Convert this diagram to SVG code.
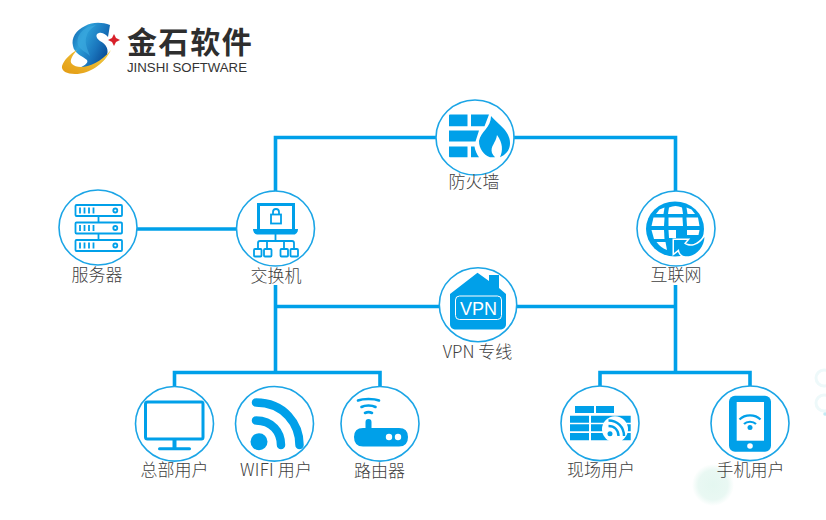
<svg xmlns="http://www.w3.org/2000/svg" width="826" height="520" viewBox="0 0 826 520">
<style>
.c{fill:#fff;stroke:#1ba5e6;stroke-width:1.6}
.f{fill:#00a0e9;stroke:none}
.s{fill:none;stroke:#00a0e9;stroke-width:1.8}
.w{fill:#fff;stroke:none}
.l{font-family:"Noto Sans CJK SC","Noto Sans",sans-serif;font-size:17px;font-weight:300;fill:#404040;text-anchor:middle}
.conn{fill:none;stroke:#00a0e9;stroke-width:3.6}
</style>
<defs>
<linearGradient id="sg" x1="0" y1="0" x2="1" y2="0.6"><stop offset="0" stop-color="#0b5aa8"/><stop offset=".35" stop-color="#2c9fd8"/><stop offset=".7" stop-color="#1a76bd"/><stop offset="1" stop-color="#0a4c96"/></linearGradient>
<linearGradient id="og" x1="0" y1="1" x2="1" y2="0"><stop offset="0" stop-color="#e39a12"/><stop offset="1" stop-color="#f4cf45"/></linearGradient>
<radialGradient id="blob"><stop offset="0" stop-color="#e4f7f0"/><stop offset=".7" stop-color="#e9f8f3"/><stop offset="1" stop-color="#fff"/></radialGradient>
</defs>
<rect width="826" height="520" fill="#fff"/>
<g id="decor" fill="none" stroke="#eef9fa" stroke-width="3">
<circle cx="824" cy="378" r="8"/><circle cx="824" cy="403" r="8"/>
<circle cx="713" cy="485" r="21" fill="url(#blob)" stroke="none"/>
<circle cx="825" cy="414" r="1.800" fill="#c4ecf5" stroke="none"/>
</g>
<g id="logo">
<path fill="url(#sg)" d="M110 25C102 22 92 22 85 26C76 30 71 38 73 46C74 53 82 56 87 60C89 63 83 67 78 68C88 70 100 66 106 57C110 50 106 44 100 41C96 38 95 34 99 33C103 32 106 35 108 37Z"/>
<path fill="#3aa8de" opacity=".7" d="M88 27C80 31 76 38 78 45C80 50 86 52 90 56C87 48 84 42 87 35C88 31 92 28 96 25Z"/>
<path fill="url(#og)" d="M62 66C64 60 70 54 77 50C72 56 69 61 72 64C78 70 96 68 111 50C104 64 90 74 75 74C67 74 61 71 62 66Z"/>
<path fill="#d8202a" d="M114 34L116 38L120 40L116 42L114 46L112 42L108 40L112 38Z"/>
<text x="127" y="53" font-family="'Noto Sans CJK SC',sans-serif" font-size="30" font-weight="700" letter-spacing="1.600" fill="#2e2e2e">金石软件</text>
<text x="127" y="72" font-family="'Liberation Sans',sans-serif" font-size="12.500" fill="#333" textLength="120" lengthAdjust="spacingAndGlyphs">JINSHI SOFTWARE</text>
</g>
<g id="connectors" class="conn">
<path d="M275.500 192V137.500H675.500V192"/>
<path d="M137 229H237"/>
<path d="M275.500 285V372"/>
<path d="M275.500 306.500H675.500"/>
<path d="M675.500 285V372"/>
<path d="M174.500 387V372.500H380V387"/>
<path d="M600 387V372.500H750V387"/>
</g>
<g id="server">
<ellipse class="c" cx="98" cy="227.500" rx="39" ry="37.500"/>
<g class="s">
<rect x="75.500" y="205" width="46.500" height="11" rx="1"/>
<rect x="75.500" y="222.500" width="46.500" height="11" rx="1"/>
<rect x="75.500" y="240" width="46.500" height="11" rx="1"/>
<path d="M98.500 216V222.500M98.500 233.500V240M80 207.500v6M84.500 207.500v6M89 207.500v6M93.500 207.500v6M80 225v6M84.500 225v6M89 225v6M93.500 225v6M80 242.500v6M84.500 242.500v6M89 242.500v6M93.500 242.500v6"/>
<circle cx="115.300" cy="210.500" r="2"/><circle cx="115.300" cy="228" r="2"/><circle cx="115.300" cy="245.500" r="2"/>
</g>
<text class="l" x="97" y="281">服务器</text>
</g>
<g id="switch">
<ellipse class="c" cx="275.500" cy="228.500" rx="39" ry="37.500"/>
<path class="f" d="M257 203H295V229H292V206H260V229H257Z"/>
<path class="f" d="M253 229H298C298 232 296 234.500 294 234.500H257C255 234.500 253 232 253 229Z"/>
<g class="s">
<rect x="271" y="214.500" width="10" height="9"/>
<path d="M273 214.500V212a3 3 0 0 1 6 0v2.500"/>
<path d="M275.500 234V241M258 248V243a2 2 0 0 1 2-2H292a2 2 0 0 1 2 2V248M267 241V248M284 241V248"/>
<rect x="254" y="249" width="7.500" height="7.500" rx="1"/><rect x="264" y="249" width="7.500" height="7.500" rx="1"/>
<rect x="280.500" y="249" width="7.500" height="7.500" rx="1"/><rect x="290.500" y="249" width="7.500" height="7.500" rx="1"/>
</g>
<text class="l" x="276" y="282">交换机</text>
</g>
<g id="firewall">
<ellipse class="c" cx="475" cy="137.500" rx="39" ry="37.500"/>
<path class="f" d="M449 115.500a1 1 0 0 1 1-1H467.500V126.300H449ZM471 114.500H489L484.500 126.300H471ZM449 130.500H479L475.500 141.500H449ZM449 146.500H467.500V157.300H450a1 1 0 0 1-1-1ZM471 146.500H474.500C475 150.500 477 154.500 479 157.300H471Z"/>
<path class="f" d="M491 116C498 124 510 131 510 143C510 151 505 155 500 157.300C503 151 503 143 497 135C496 143 490 146 492 153C493 155 494 156 495 157.300H490C484 155 479 149 479 141C481 131 491 128 491 116Z"/>
<text class="l" x="474" y="188">防火墙</text>
</g>
<g id="internet">
<ellipse class="c" cx="676" cy="228.500" rx="39" ry="37.500"/>
<ellipse class="f" cx="675" cy="229" rx="29" ry="27.500"/>
<g class="w">
<path d="M669 207.500Q675.500 204.500 682 207.500L683 214H668Z"/>
<path d="M659.500 209.500L664.500 207.500L663.500 214H656Z"/>
<path d="M686.500 207.500L691.500 209.500L695 214H687.500Z"/>
<path d="M653.500 217.500H664.500L664 226H651.500Z"/>
<path d="M668.500 217.500H682.500L683 226H668.500Z"/>
<path d="M686.500 217.500H698L699.500 226H687Z"/>
<path d="M651.500 230H664L664.500 239H654Z"/>
<path d="M668.500 230H676V238H669Z"/>
<path d="M687 230H699.500L698.500 235H687Z"/>
<path d="M656.500 242H665.500L667 250Q661 248 656.500 242Z"/>
</g>
<path class="f" stroke="#fff" stroke-width="3" paint-order="stroke" d="M674 240H687L684 243.500C690 248 698 246 704.500 237C704 249 694 258 684 256C681 255.500 679 252 679 249L674 253Z" style="stroke:#fff"/>
<text class="l" x="676" y="281">互联网</text>
</g>
<g id="vpn">
<ellipse class="c" cx="478" cy="304.700" rx="38.700" ry="37"/>
<path class="f" d="M477.500 272.700L489 281V275H499V288L506 294V324C506 328 503 329.500 500 329.500H456C453 329.500 450 328 450 324V294Z"/>
<rect x="455.500" y="296" width="46" height="23.500" rx="4" fill="none" stroke="#fff" stroke-width="1"/>
<text x="478.500" y="314.500" font-family="'Liberation Sans',sans-serif" font-size="18" fill="#fff" text-anchor="middle">VPN</text>
<text class="l" x="477.500" y="358">VPN 专线</text>
</g>
<g id="desktop">
<ellipse class="c" cx="174.500" cy="423.800" rx="39" ry="37.300"/>
<path d="M147.500 402H201.500Q203 402 203 404V437Q203 439 201.500 439H147.500Q145.500 439 145.500 437V404Q145.500 402 147.500 402Z" fill="none" stroke="#00a0e9" stroke-width="3"/>
<path class="f" d="M172.500 440H176.500V448H172.500Z"/>
<rect class="f" x="158" y="447.300" width="33" height="3" rx="1.500"/>
<text class="l" x="174.500" y="476">总部用户</text>
</g>
<g id="wifi">
<ellipse class="c" cx="274.500" cy="423.800" rx="39" ry="37.300"/>
<circle class="f" cx="259" cy="441.700" r="8.500"/>
<path d="M256 420.500C272 420.500 281 432 281 445" fill="none" stroke="#00a0e9" stroke-width="8.500" stroke-linecap="round"/>
<path d="M256 402.500C284 402.500 299.500 424 299.500 445" fill="none" stroke="#00a0e9" stroke-width="8.500" stroke-linecap="round"/>
<text class="l" x="276" y="476" textLength="72" lengthAdjust="spacing">WIFI 用户</text>
</g>
<g id="router">
<ellipse class="c" cx="380" cy="423.800" rx="39" ry="37.300"/>
<path class="f" d="M365.500 428V422a3 3 0 0 1 6 0V428H399Q408 428 408 437Q408 446.500 399 446.500H363Q354 446.500 354 437Q354 428 363 428Z"/>
<circle class="w" cx="389" cy="437" r="3.200"/><circle class="w" cx="398" cy="437" r="3.200"/>
<path d="M358 400.500C363 398.500 374 398.500 379 400.500M361.500 407C365 405 372 405 375.500 407M365 413C367 412 370 412 372 413" fill="none" stroke="#00a0e9" stroke-width="2.600" stroke-linecap="round"/>
<text class="l" x="379.500" y="477">路由器</text>
</g>
<g id="site">
<ellipse class="c" cx="600" cy="423.300" rx="39" ry="37.300"/>
<path class="f" d="M575 406H594V413H575ZM596 406H614V413H596ZM570 415.700H589V422.700H570ZM591 415.700H630.700V422.700H591ZM570 424.300H589V431.300H570ZM591 424.300H612V431.300H591ZM625 424.300H630.700V431.300H625ZM570 433H589V440.300H570ZM591 433H612V440.300H591ZM622 433H630.700V440.300H622Z"/>
<circle class="w" cx="615" cy="429.300" r="13"/>
<circle class="f" cx="610" cy="433.800" r="2.500"/>
<path d="M608.500 426C614.500 426 618.500 430 618.500 436M608.500 420.500C617.500 420.500 624 427 624 436" fill="none" stroke="#00a0e9" stroke-width="2.400"/>
<text class="l" x="601" y="476">现场用户</text>
</g>
<g id="mobile">
<ellipse class="c" cx="750" cy="423.300" rx="39" ry="37.300"/>
<rect class="f" x="729" y="395.700" width="42" height="56" rx="6"/>
<rect class="w" x="736.700" y="402" width="27.300" height="38.700"/>
<circle class="w" cx="750" cy="446" r="2.800"/>
<circle class="f" cx="750" cy="427.500" r="2.500"/>
<path d="M739.500 419.500C745 414 755 414 760.500 419.500M744 424C747 421 753 421 756 424" fill="none" stroke="#00a0e9" stroke-width="2.200"/>
<text class="l" x="750.500" y="476">手机用户</text>
</g>
</svg>
